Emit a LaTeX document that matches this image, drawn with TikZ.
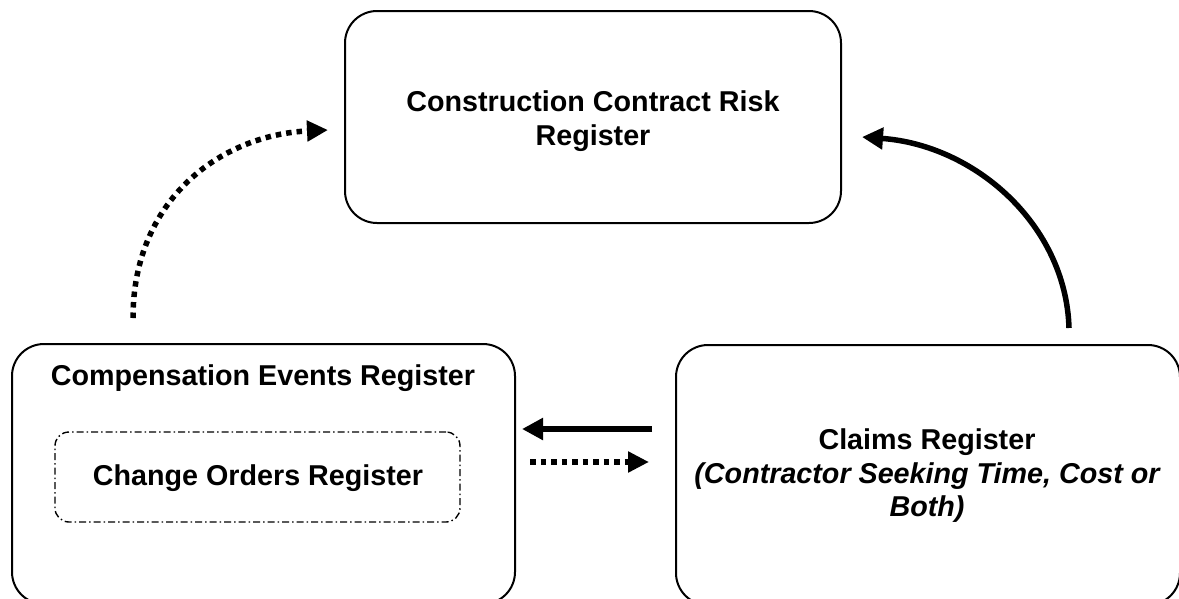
\documentclass[tikz,border=0pt]{standalone}
\usepackage{fontspec}
\setmainfont{Liberation Sans}
\usetikzlibrary{arrows.meta}
\begin{document}
\begin{tikzpicture}[x=1pt,y=-1pt,
  regbox/.style={draw=black,line width=2pt,rounded corners=32pt,inner sep=0pt},
  innerbox/.style={draw=black,line width=1.4pt,rounded corners=14pt,inner sep=0pt,
    dash pattern=on 7pt off 3pt on 1.5pt off 3pt},
  lbl/.style={font=\bfseries\fontsize{28.7}{33.5}\selectfont,align=center,inner sep=0pt},
  solidarrow/.style={line width=5.5pt,-{Triangle[length=21pt,width=21pt]}},
  dotarrow/.style={line width=5.5pt,dash pattern=on 5.5pt off 5pt,-{Triangle[length=21pt,width=20pt]}}
]
\useasboundingbox (0,0) rectangle (1179,598);
\clip (0,0) rectangle (1179,598);
\node[regbox,minimum width=496pt,minimum height=212pt] (risk) at (593,117) {};
\node[lbl] (risktxt) at (593,121) {Construction Contract Risk\\Register};
\node[regbox,minimum width=503pt,minimum height=260pt] (comp) at (263.5,474) {};
\node[lbl] (comptxt) at (263,378) {Compensation Events Register};
\node[innerbox,minimum width=405pt,minimum height=90pt] (change) at (257.5,477) {};
\node[lbl] (changetxt) at (258,478) {Change Orders Register};
\node[regbox,minimum width=504pt,minimum height=260pt] (claims) at (928,475) {};
\node[lbl] (claimstxt) at (927,476) {Claims Register\\\itshape(Contractor Seeking Time, Cost or\\\itshape Both)};
\coordinate (a1s) at (133,318);
\coordinate (a1e) at (328,130);
\coordinate (a2s) at (1069,328);
\coordinate (a2e) at (862,137);
\coordinate (a3s) at (652,429);
\coordinate (a3e) at (522,429);
\coordinate (a4s) at (530,462);
\coordinate (a4e) at (649,462);
\draw[dotarrow] (a1s) .. controls (133,200) and (220,135) .. (a1e);
\draw[solidarrow] (a2s) .. controls (1066,225) and (975,145) .. (a2e);
\draw[solidarrow] (a3s) -- (a3e);
\draw[dotarrow] (a4s) -- (a4e);
\end{tikzpicture}
\end{document}
